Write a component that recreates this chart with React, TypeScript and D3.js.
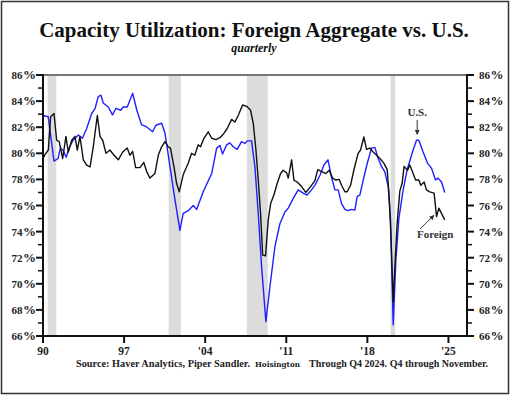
import React from 'react';
import * as d3 from 'd3';

// quarterly readings, [year, capacity utilization %]
const usYears = [
  1990.0, 1990.45, 1990.95, 1991.3, 1991.5, 1991.75, 1992.0, 1992.3, 1992.6, 1993.05, 1993.4, 1993.77,
  1994.2, 1994.5, 1994.77, 1995.0, 1995.2, 1995.63, 1996.0, 1996.3, 1996.7, 1996.93, 1997.27, 1997.74,
  1998.1, 1998.5, 1998.9, 1999.46, 1999.75, 2000.24, 2000.53, 2000.96, 2001.4, 2001.82, 2002.1, 2002.54,
  2002.97, 2003.26, 2003.83, 2004.56, 2004.99, 2005.27, 2005.5, 2005.85, 2006.13, 2006.42, 2006.76, 2007.14,
  2007.43, 2007.63, 2008.0, 2008.29, 2008.58, 2008.87, 2009.24, 2009.59, 2010.02, 2010.45, 2010.88, 2011.17,
  2011.6, 2012.03, 2012.46, 2012.8, 2013.18, 2013.5, 2013.9, 2014.25, 2014.6, 2014.9, 2015.19, 2015.48,
  2015.77, 2016.06, 2016.34, 2016.63, 2016.92, 2017.12, 2017.35, 2017.64, 2017.98, 2018.36, 2018.65, 2018.93,
  2019.22, 2019.5, 2019.8, 2020.0, 2020.23, 2020.46, 2020.72, 2021.09, 2021.45, 2021.95, 2022.24, 2022.44,
  2022.81, 2023.19, 2023.54, 2023.88, 2024.1, 2024.4, 2024.68,
];
const usValues = [
  82.9, 82.8, 79.4, 79.6, 80.4, 80.2, 79.7, 80.5, 81.0, 81.4, 81.15, 81.9,
  83.05, 83.45, 84.35, 84.45, 83.85, 83.55, 82.95, 83.45, 83.3, 83.55, 83.55, 84.6,
  83.3, 82.2, 82.05, 81.65, 82.15, 82.3, 81.55, 79.0, 76.4, 74.1, 75.4, 75.6,
  76.0, 75.7, 77.05, 78.45, 80.4, 80.6, 79.95, 80.65, 80.8, 80.5, 80.3, 80.9,
  80.75, 80.95, 80.95, 79.0, 75.4, 71.3, 67.1, 69.8, 72.85, 74.6, 75.5, 75.8,
  76.55, 77.2, 76.95, 76.8, 77.2, 77.6, 78.3, 79.1, 79.5, 78.2, 77.2, 77.2,
  76.15, 75.7, 75.6, 75.7, 75.65, 76.7, 76.8, 77.95, 79.2, 80.4, 80.45, 79.6,
  79.0, 78.6, 77.45, 74.9, 66.85, 71.8, 75.0, 77.2, 78.8, 80.25, 81.0, 81.0,
  80.1, 79.25, 78.85, 77.95, 78.1, 77.8, 77.0,
];

const fgnYears = [
  1990.0, 1990.17, 1990.46, 1990.66, 1990.95, 1991.18, 1991.4, 1991.7, 1991.98, 1992.18, 1992.48, 1992.76,
  1992.96, 1993.19, 1993.48, 1993.77, 1994.06, 1994.34, 1994.69, 1994.92, 1995.15, 1995.44, 1995.78, 1996.13,
  1996.5, 1996.88, 1997.27, 1997.5, 1997.74, 1998.0, 1998.37, 1998.7, 1998.95, 1999.23, 1999.66, 1999.95,
  2000.24, 2000.53, 2000.81, 2001.0, 2001.3, 2001.53, 2001.76, 2002.1, 2002.54, 2002.83, 2003.1, 2003.4,
  2003.6, 2003.89, 2004.26, 2004.56, 2004.93, 2005.27, 2005.6, 2005.9, 2006.28, 2006.57, 2006.85, 2007.23,
  2007.58, 2007.92, 2008.15, 2008.38, 2008.58, 2008.78, 2008.96, 2009.21, 2009.44, 2009.65, 2009.93, 2010.22,
  2010.51, 2010.73, 2011.03, 2011.17, 2011.46, 2011.66, 2011.94, 2012.32, 2012.69, 2013.1, 2013.47, 2013.72,
  2014.05, 2014.42, 2014.7, 2015.0, 2015.28, 2015.57, 2015.77, 2016.06, 2016.26, 2016.55, 2016.83, 2017.2,
  2017.41, 2017.7, 2017.93, 2018.21, 2018.5, 2018.79, 2019.08, 2019.42, 2019.71, 2019.88, 2020.05, 2020.23,
  2020.4, 2020.57, 2020.8, 2021.0, 2021.17, 2021.47, 2021.66, 2021.95, 2022.16, 2022.44, 2022.61, 2022.9,
  2023.1, 2023.39, 2023.76, 2023.97, 2024.17, 2024.4, 2024.68,
];
const fgnValues = [
  79.6, 79.9, 80.25, 82.8, 83.05, 81.0, 80.9, 79.6, 81.3, 80.1, 81.0, 81.3,
  80.25, 81.3, 79.5, 79.1, 78.95, 80.5, 82.9, 81.3, 81.0, 80.0, 80.25, 79.85,
  79.5, 80.1, 80.4, 79.85, 80.15, 78.9, 78.9, 79.3, 78.6, 78.1, 78.45, 79.85,
  80.5, 80.9, 80.5, 80.4, 79.0, 77.7, 77.05, 78.35, 79.25, 80.0, 79.85, 80.65,
  80.5, 81.15, 81.65, 81.15, 81.05, 81.2, 81.5, 81.9, 82.6, 82.4, 82.9, 83.7,
  83.6, 83.3, 82.3, 80.25, 77.95, 75.4, 72.2, 72.15, 74.9, 76.15, 76.8, 77.7,
  78.45, 78.7, 78.5, 78.1, 79.5, 77.95, 77.8, 77.45, 77.0, 77.45, 77.9, 78.75,
  78.6, 78.45, 78.7, 78.1, 77.95, 78.0, 77.55, 77.05, 77.05, 77.55, 78.7, 80.0,
  80.25, 81.25, 80.3, 80.4, 80.1, 79.85, 79.6, 79.25, 78.75, 76.7, 73.35, 68.6,
  71.8, 74.6, 77.1, 77.7, 79.0, 78.7, 79.1, 78.45, 77.95, 77.95, 77.55, 77.8,
  77.2, 77.05, 76.95, 75.15, 75.8, 75.4, 74.9,
];

const recessions = [
  [1990.4, 1991.15],
  [2000.85, 2001.9],
  [2007.6, 2009.4],
  [2020.0, 2020.4],
];

const yearTicks = [1990, 1997, 2004, 2011, 2018, 2025];
const yearLabels = ['90', '97', "'04", "'11", "'18", "'25"];
const pctTicks = [66, 68, 70, 72, 74, 76, 78, 80, 82, 84, 86];

const W = 512;
const H = 398;
const serif = '"Liberation Serif", "Times New Roman", serif';

export default function App() {
  const x = d3.scaleLinear().domain([1990, 2026.6]).range([43, 467]);
  const y = d3.scaleLinear().domain([66, 86]).range([336, 75]);

  const seriesLine = d3
    .line<[number, number]>()
    .x((d) => x(d[0]))
    .y((d) => y(d[1]));

  const usPath = seriesLine(usYears.map((yr, i) => [yr, usValues[i]]));
  const fgnPath = seriesLine(fgnYears.map((yr, i) => [yr, fgnValues[i]]));

  const minorTicks = d3.range(66, 87, 1);
  const [x0, x1] = x.range();
  const [yb, yt] = y.range();

  return (
    <svg width={W} height={H} style={{ position: 'absolute', left: 0, top: 0, background: '#fff' }}>
      <defs>
        <marker id="ah" viewBox="0 0 10 10" refX="9" refY="5" markerWidth="5" markerHeight="5" orient="auto">
          <path d="M0,0 L10,5 L0,10 z" fill="#333" />
        </marker>
      </defs>
      <rect x={1.5} y={1.5} width={W - 5} height={H - 6} fill="#fff" stroke="#333" strokeWidth={1.5} />

      {/* title */}
      <text x={254} y={37} textAnchor="middle" fontFamily={serif} fontWeight="bold" fontSize={21} fill="#111">
        Capacity Utilization: Foreign Aggregate vs. U.S.
      </text>
      <text x={254} y={52} textAnchor="middle" fontFamily={serif} fontWeight="bold" fontStyle="italic" fontSize={12} fill="#111">
        quarterly
      </text>

      {/* recession bands */}
      {recessions.map(([a, b], i) => (
        <rect key={i} x={x(a)} y={yt} width={x(b) - x(a)} height={yb - yt} fill="#dcdcdc" />
      ))}

      {/* series */}
      <path d={usPath ?? ''} fill="none" stroke="#1f1fff" strokeWidth={1.4} strokeLinejoin="round" />
      <path d={fgnPath ?? ''} fill="none" stroke="#111" strokeWidth={1.4} strokeLinejoin="round" />

      {/* frame */}
      <line x1={x0} x2={x1} y1={yt} y2={yt} stroke="#777" strokeWidth={2} />
      <line x1={x0} x2={x0} y1={yt - 1} y2={yb + 1} stroke="#111" strokeWidth={2} />
      <line x1={x1} x2={x1} y1={yt - 1} y2={yb + 1} stroke="#111" strokeWidth={2} />
      <line x1={x0 - 1} x2={x1 + 1} y1={yb} y2={yb} stroke="#111" strokeWidth={2} />

      {/* y ticks both sides */}
      {minorTicks.map((t) => {
        const major = t % 2 === 0;
        const len = major ? 7 : 5;
        return (
          <g key={t}>
            <line x1={x0 - len} x2={x0} y1={y(t)} y2={y(t)} stroke="#111" strokeWidth={major ? 2 : 1.5} />
            <line x1={x1} x2={x1 + len} y1={y(t)} y2={y(t)} stroke="#111" strokeWidth={major ? 2 : 1.5} />
          </g>
        );
      })}
      {pctTicks.map((t) => (
        <g key={t} fontFamily={serif} fontWeight="bold" fontSize={11} fill="#222">
          <text x={36} y={y(t) + 4} textAnchor="end">
            {t}
            <tspan fontSize={13} dx={0.5}>%</tspan>
          </text>
          <text x={479} y={y(t) + 4} textAnchor="start">
            {t}
            <tspan fontSize={13} dx={0.5}>%</tspan>
          </text>
        </g>
      ))}

      {/* x ticks */}
      {yearTicks.map((t, i) => (
        <g key={t}>
          <line x1={x(t)} x2={x(t)} y1={yb} y2={yb + 7} stroke="#111" strokeWidth={2} />
          <text x={x(t)} y={yb + 19} textAnchor="middle" fontFamily={serif} fontWeight="bold" fontSize={11.5} fill="#222">
            {yearLabels[i]}
          </text>
        </g>
      ))}

      {/* annotations */}
      <text x={x(2022.3)} y={y(82.85)} textAnchor="middle" fontFamily={serif} fontWeight="bold" fontSize={11} fill="#333">
        U.S.
      </text>
      <line x1={x(2022.3)} x2={x(2022.3)} y1={y(82.55)} y2={y(81.45)} stroke="#333" strokeWidth={1} markerEnd="url(#ah)" />
      <text x={x(2023.85)} y={y(73.5)} textAnchor="middle" fontFamily={serif} fontWeight="bold" fontSize={11} fill="#333">
        Foreign
      </text>
      <line x1={x(2022.55)} x2={x(2023.75)} y1={y(74.2)} y2={y(75.25)} stroke="#333" strokeWidth={1} markerEnd="url(#ah)" />

      {/* footer */}
      <g fontFamily={serif} fontWeight="bold" fontSize={9.5} fill="#222">
        <text x={76} y={367} textLength={174} lengthAdjust="spacingAndGlyphs">
          Source:  Haver Analytics, Piper Sandler.
        </text>
        <text x={255} y={367} fontFamily='"DejaVu Serif", serif' fontSize={8} textLength={45} lengthAdjust="spacingAndGlyphs">
          Hoisington
        </text>
        <text x={309} y={367} textLength={179} lengthAdjust="spacingAndGlyphs">
          Through Q4 2024. Q4 through November.
        </text>
      </g>
    </svg>
  );
}
